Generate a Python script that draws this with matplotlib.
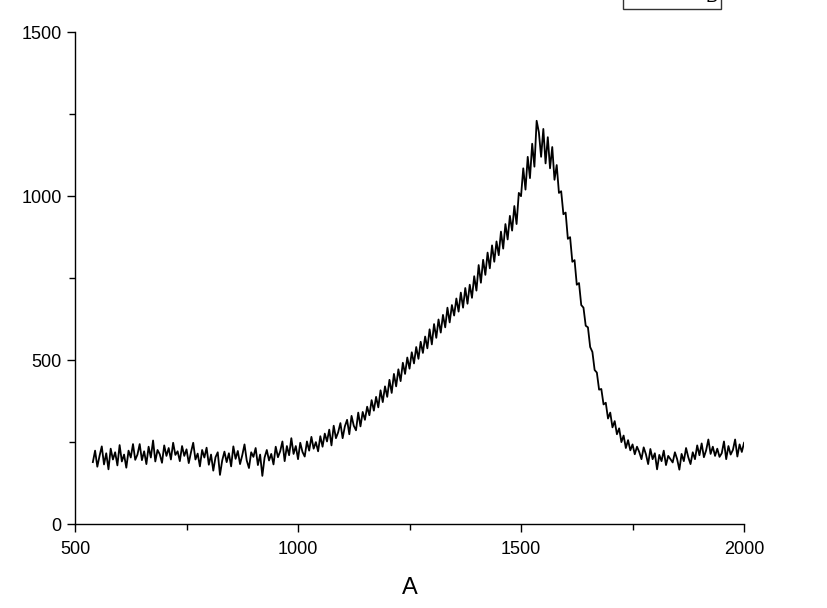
import numpy as np
import matplotlib
matplotlib.use("Agg")
import matplotlib.pyplot as plt
from matplotlib.ticker import MultipleLocator

plt.rcParams['font.family'] = ['Liberation Sans', 'DejaVu Sans']

x_start = 540
x_step = 5
y_values = [
    189, 224, 175, 208, 237, 182, 216, 167, 230, 197, 219, 179, 241, 191, 212, 172, 224, 203, 244, 196,
    212, 244, 195, 222, 183, 236, 203, 255, 191, 226, 213, 187, 240, 208, 232, 197, 248, 211, 222, 192,
    238, 208, 228, 186, 219, 248, 197, 215, 176, 226, 203, 233, 181, 212, 163, 204, 219, 150, 194, 221,
    189, 216, 176, 237, 199, 223, 183, 210, 243, 194, 171, 219, 205, 232, 180, 212, 147, 203, 226, 194,
    214, 182, 236, 204, 222, 252, 192, 238, 210, 262, 214, 238, 198, 248, 220, 206, 252, 224, 266, 230,
    250, 222, 268, 236, 276, 252, 288, 240, 300, 262, 280, 308, 262, 298, 318, 274, 330, 300, 286, 340,
    298, 342, 318, 358, 332, 378, 346, 388, 356, 408, 372, 420, 388, 440, 400, 458, 420, 472, 436, 492,
    458, 508, 474, 524, 490, 540, 504, 556, 522, 572, 536, 594, 548, 610, 568, 624, 584, 638, 600, 660,
    615, 668, 636, 688, 648, 706, 660, 720, 672, 730, 690, 756, 712, 790, 736, 806, 760, 828, 780, 850,
    800, 862, 820, 892, 840, 915, 868, 940, 895, 970, 915, 1010, 1000, 1085, 1020, 1120, 1055, 1160, 1090, 1230,
    1195, 1120, 1205, 1100, 1180, 1085, 1150, 1050, 1095, 1010, 1015, 945, 950, 870, 875, 800, 805, 730, 735, 668,
    660, 605, 600, 540, 525, 470, 462, 410, 412, 365, 370, 322, 340, 295, 314, 274, 292, 250, 270, 232,
    256, 225, 243, 213, 236, 220, 198, 234, 213, 183, 229, 198, 216, 167, 211, 192, 224, 180, 208, 198,
    188, 219, 198, 166, 214, 192, 232, 204, 183, 219, 198, 240, 210, 246, 204, 225, 258, 214, 236, 208,
    230, 205, 216, 252, 198, 238, 212, 226, 258, 206, 243, 220, 248,
]
x_values = [x_start + i * x_step for i in range(len(y_values))]
series_label = "B"
x_label = "A"

fig = plt.figure(figsize=(8.28, 6.08), dpi=100)
ax = fig.add_axes([0.0906, 0.138, 0.808, 0.809])
line, = ax.plot(x_values, y_values, color='black', linewidth=1.3, label=series_label)

ax.set_xlim(500, 2000)
ax.set_ylim(0, 1500)
ax.xaxis.set_major_locator(MultipleLocator(500))
ax.xaxis.set_minor_locator(MultipleLocator(250))
ax.yaxis.set_major_locator(MultipleLocator(500))
ax.yaxis.set_minor_locator(MultipleLocator(250))
for s in ['top', 'right']:
    ax.spines[s].set_visible(False)
for s in ['left', 'bottom']:
    ax.spines[s].set_linewidth(1.0)
ax.tick_params(which='major', direction='out', length=6, width=1.0, labelsize=13, colors='black')
ax.tick_params(which='minor', direction='out', length=4, width=1.0)
ax.tick_params(axis='x', which='major', pad=6)
ax.set_xlabel(x_label, fontsize=17, labelpad=14)

leg = fig.legend(handles=[line], loc='lower right', bbox_to_anchor=(0.871, 0.985),
                 frameon=True, fancybox=False, edgecolor='black', fontsize=13,
                 handlelength=3.6, borderpad=0.2, borderaxespad=0)
leg.get_frame().set_linewidth(1.0)

fig.savefig("out.png", dpi=100)
